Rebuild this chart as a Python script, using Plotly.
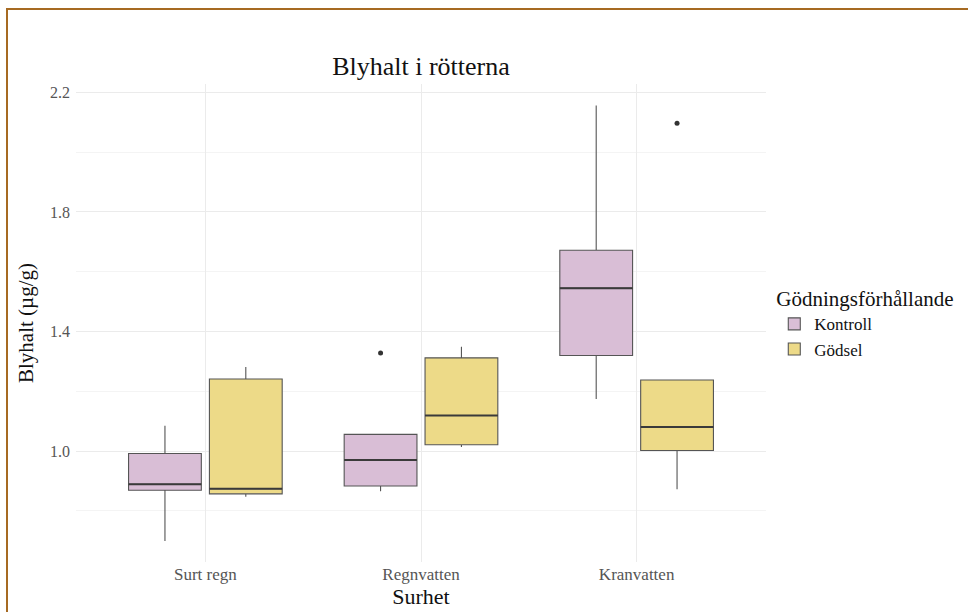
import plotly.graph_objects as go

categories = ["Surt regn", "Regnvatten", "Kranvatten"]
groups = ["Kontroll", "Gödsel"]

kontroll_lower = [0.699, 0.866, 1.174]
kontroll_q1 = [0.869, 0.883, 1.320]
kontroll_median = [0.889, 0.970, 1.545]
kontroll_q3 = [0.992, 1.056, 1.672]
kontroll_upper = [1.085, 1.056, 2.156]
kontroll_outliers_cat = [1]
kontroll_outliers_val = [1.328]

godsel_lower = [0.847, 1.014, 0.872]
godsel_q1 = [0.857, 1.021, 1.002]
godsel_median = [0.874, 1.119, 1.081]
godsel_q3 = [1.241, 1.312, 1.238]
godsel_upper = [1.281, 1.349, 1.238]
godsel_outliers_cat = [2]
godsel_outliers_val = [2.097]

fills = ["#D9BED6", "#EDDA88"]
FONT = "Liberation Serif"

dodge = 0.75
box_w = dodge / 2 * 0.9
offsets = [-dodge / 4, dodge / 4]

stats = [
    (kontroll_lower, kontroll_q1, kontroll_median, kontroll_q3, kontroll_upper,
     kontroll_outliers_cat, kontroll_outliers_val),
    (godsel_lower, godsel_q1, godsel_median, godsel_q3, godsel_upper,
     godsel_outliers_cat, godsel_outliers_val),
]

fig = go.Figure()
for gi, (lo, q1, med, q3, up, oc, ov) in enumerate(stats):
    xs = [i + offsets[gi] for i in range(len(categories))]
    fig.add_trace(go.Box(
        name=groups[gi], x=xs, lowerfence=lo, q1=q1, median=med, q3=q3,
        upperfence=up, width=box_w, fillcolor=fills[gi],
        line=dict(color="#555555", width=1.1), whiskerwidth=0,
        boxpoints=False, showlegend=True,
    ))
    fig.add_trace(go.Scatter(
        x=[c + offsets[gi] for c in oc], y=ov, mode="markers",
        marker=dict(color="#333333", size=5), showlegend=False, hoverinfo="y",
    ))
    # thicker median lines (ggplot fatten)
    for i, m in enumerate(med):
        fig.add_trace(go.Scatter(
            x=[xs[i] - box_w / 2, xs[i] + box_w / 2], y=[m, m], mode="lines",
            line=dict(color="#3a3a3a", width=2), showlegend=False, hoverinfo="skip",
        ))

fig.update_layout(
    width=968, height=612,
    margin=dict(l=76, r=202, t=84, b=50),
    paper_bgcolor="white", plot_bgcolor="white",
    font=dict(family=FONT, color="#222222"),
    boxmode="overlay",
    title=dict(text="Blyhalt i rötterna", x=(76 + 766) / 2 / 968, xanchor="center",
               y=1 - 66 / 612, yanchor="middle",
               font=dict(size=26, color="#111111", family=FONT)),
    legend=dict(
        title=dict(text="Gödningsförhållande", font=dict(size=21, color="#111111")),
        font=dict(size=17, color="#111111"),
        x=1.012, xanchor="left", y=0.5, yanchor="middle",
        bgcolor="rgba(0,0,0,0)", tracegroupgap=2,
    ),
    xaxis=dict(
        range=[-0.6, 2.6], tickmode="array", tickvals=[0, 1, 2], ticktext=categories,
        showgrid=True, gridcolor="#EBEBEB", gridwidth=1, zeroline=False,
        showline=False, ticks="", tickfont=dict(size=17, color="#555555"),
        title=dict(text="Surhet", font=dict(size=22, color="#111111"), standoff=0),
    ),
    yaxis=dict(
        range=[0.629, 2.228], tick0=1.0, dtick=0.4, tickformat=".1f",
        showgrid=True, gridcolor="#EBEBEB", gridwidth=1, zeroline=False,
        showline=False, ticks="", tickfont=dict(size=16, color="#555555"),
        ticklabelstandoff=5,
        minor=dict(tick0=0.8, dtick=0.4, showgrid=True, gridcolor="#F4F4F4", gridwidth=1),
        title=dict(text="Blyhalt (µg/g)", font=dict(size=21, color="#111111"), standoff=10),
    ),
)

# outer brown frame
fig.add_shape(type="rect", xref="paper", yref="paper",
              x0=(7 - 76) / 690, x1=(990 - 76) / 690,
              y0=(562 - 640) / 478, y1=(562 - 9) / 478,
              line=dict(color="#A66A22", width=2), fillcolor="rgba(0,0,0,0)",
              layer="above")

fig.write_html("out.html")
